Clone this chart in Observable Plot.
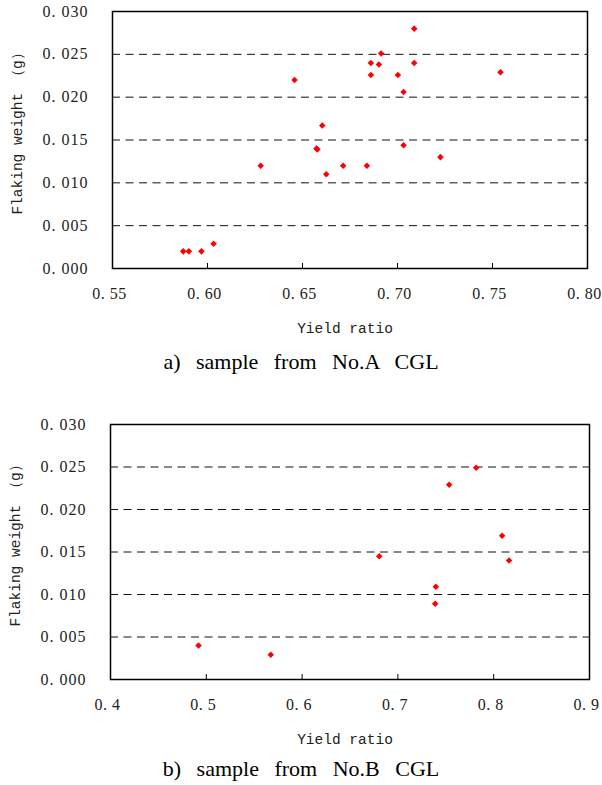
<!DOCTYPE html>
<html>
<head>
<meta charset="utf-8">
<script src="https://cdn.jsdelivr.net/npm/d3@7"></script>
<script src="https://cdn.jsdelivr.net/npm/@observablehq/plot@0.6"></script>
<style>
  body { margin: 0; background: white; }
  #root { width: 602px; }
  .cap { width: 602px; text-align: center; font-family: "Liberation Serif", serif; font-size: 22px; line-height: 28px; height: 28px; word-spacing: 10px; color: #000; white-space: nowrap; }
  svg [aria-label="y-axis tick label"] text { letter-spacing: 1px; }
  svg [aria-label="x-axis tick label"] text { letter-spacing: 0.5px; }
</style>
</head>
<body>
<div id="root"></div>
<script>
// Chart a) sample from No.A CGL
const aYield  = [0.5872, 0.5902, 0.5968, 0.6032, 0.6280, 0.6458, 0.6604, 0.6574, 0.6578, 0.6625, 0.6714, 0.6839, 0.6860, 0.6860, 0.6902, 0.6914, 0.7002, 0.7032, 0.7032, 0.7088, 0.7088, 0.7226, 0.7542];
const aWeight = [0.0020, 0.0020, 0.0020, 0.0029, 0.0120, 0.0220, 0.0167, 0.0140, 0.0139, 0.0110, 0.0120, 0.0120, 0.0240, 0.0226, 0.0238, 0.0251, 0.0226, 0.0206, 0.0144, 0.0280, 0.0240, 0.0130, 0.0229];
const aXTicks = [0.55, 0.60, 0.65, 0.70, 0.75, 0.80];

// Chart b) sample from No.B CGL
const bYield  = [0.4919, 0.5673, 0.6805, 0.7396, 0.7389, 0.7535, 0.7817, 0.8088, 0.8160];
const bWeight = [0.0040, 0.0029, 0.0145, 0.0109, 0.0089, 0.0229, 0.0249, 0.0169, 0.0140];
const bXTicks = [0.4, 0.5, 0.6, 0.7, 0.8, 0.9];

const yTicks = [0, 0.005, 0.010, 0.015, 0.020, 0.025, 0.030];
const gridTicks = [0.005, 0.010, 0.015, 0.020, 0.025];

const xLabel = "Yield ratio";
const yLabel = "Flaking weight （g）";
const captionA = "a) sample from No.A CGL";
const captionB = "b) sample from No.B CGL";

function chart({xs, ys, xTicks, xDigits, height, mt, mb, ml, mr}) {
  const data = xs.map((x, i) => ({x, y: ys[i]}));
  const innerH = height - mt - mb;
  const fmt = (digits) => (d) => d3.format("." + digits + "f")(d).replace(".", ". ");
  return Plot.plot({
    width: 602,
    height,
    marginTop: mt,
    marginBottom: mb,
    marginLeft: ml,
    marginRight: mr,
    style: {fontFamily: "'Liberation Serif', serif", fontSize: "16px", color: "#222", background: "white", overflow: "visible"},
    x: {domain: [xTicks[0], xTicks[xTicks.length - 1]]},
    y: {domain: [0, 0.03]},
    marks: [
      Plot.ruleY(gridTicks, {y: d => d, stroke: "#111", strokeWidth: 1, strokeDasharray: "8,5.5"}),
      Plot.tickX(xTicks, {x: d => d, insetTop: innerH - 5, stroke: "#000", strokeWidth: 1}),
      Plot.axisX({ticks: xTicks, tickSize: 0, tickPadding: 19, dx: -3, tickFormat: fmt(xDigits), label: null}),
      Plot.axisY({ticks: yTicks, tickSize: 0, tickPadding: 24, tickFormat: fmt(3), label: null}),
      Plot.frame({stroke: "#000", strokeWidth: 1.5}),
      Plot.dot(data, {x: "x", y: "y", symbol: "square", rotate: 45, r: 2.6, fill: "#ff0000"}),
      Plot.text([xLabel], {text: d => d, frameAnchor: "bottom", dy: 64, dx: -5, fontFamily: "'Liberation Mono', monospace", fontSize: 14.5, fill: "#222"}),
      Plot.text([yLabel], {text: d => d, frameAnchor: "left", textAnchor: "middle", rotate: -90, dx: -95, dy: -10, fontFamily: "'Liberation Mono', monospace", fontSize: 14.5, fill: "#222"})
    ]
  });
}

const root = document.getElementById("root");
root.appendChild(chart({xs: aYield, ys: aWeight, xTicks: aXTicks, xDigits: 2, height: 348, mt: 11, mb: 80, ml: 112, mr: 15}));
const capA = document.createElement("div");
capA.className = "cap";
capA.textContent = captionA;
root.appendChild(capA);
root.appendChild(chart({xs: bYield, ys: bWeight, xTicks: bXTicks, xDigits: 1, height: 379, mt: 48, mb: 76, ml: 110, mr: 13}));
const capB = document.createElement("div");
capB.className = "cap";
capB.textContent = captionB;
root.appendChild(capB);
</script>
</body>
</html>
